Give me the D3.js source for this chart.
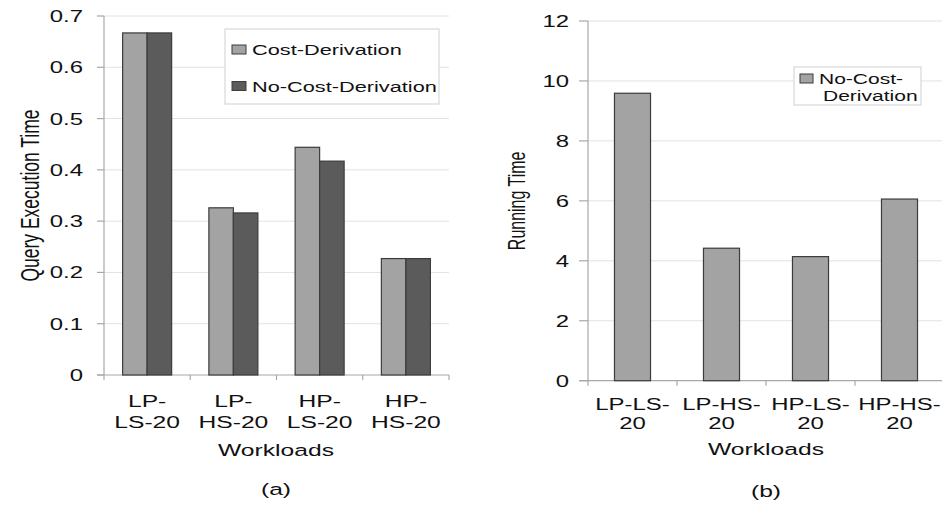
<!DOCTYPE html>
<html>
<head>
<meta charset="utf-8">
<script src="https://cdn.jsdelivr.net/npm/d3@7"></script>
<style>
  html, body { margin: 0; padding: 0; background: #fff; }
  svg { display: block; }
  text { font-family: "Liberation Sans", Arial, sans-serif; fill: #111; }
</style>
</head>
<body>
<svg id="chart" width="942" height="507"></svg>
<script>
// ---------- data ----------
const workloads = ["LP-LS-20", "LP-HS-20", "HP-LS-20", "HP-HS-20"];
const labelLinesA = [["LP-", "LS-20"], ["LP-", "HS-20"], ["HP-", "LS-20"], ["HP-", "HS-20"]];
const labelLinesB = [["LP-LS-", "20"], ["LP-HS-", "20"], ["HP-LS-", "20"], ["HP-HS-", "20"]];
const seriesNames = ["Cost-Derivation", "No-Cost-Derivation"];
const costDerivation = [0.667, 0.326, 0.444, 0.227];
const noCostDerivation = [0.667, 0.316, 0.417, 0.227];
const runningTime = [9.59, 4.42, 4.14, 6.06];
const ticksA = [0, 0.1, 0.2, 0.3, 0.4, 0.5, 0.6, 0.7];
const ticksB = [0, 2, 4, 6, 8, 10, 12];

// ---------- style ----------
const SX = 1.45;              // horizontal stretch of the original figure
const colLight = "#a3a3a3", colDark = "#5b5b5b", colStroke = "#3c3c3c";
const gridCol = "#e2e2e2", axisCol = "#a8a8a8";

const svg = d3.select("#chart");

function stext(g, x, y, str, size, anchor, rotate) {
  return g.append("text")
    .attr("transform", `translate(${x},${y}) scale(${SX},1)` + (rotate ? " rotate(-90)" : ""))
    .attr("text-anchor", anchor || "start")
    .style("font-size", size + "px")
    .text(str);
}

function drawAxes(g, x, y, ticks, fmt, opts) {
  const [x0, x1] = x.range();
  const [y0, y1] = y.range();
  g.append("g").selectAll("line").data(ticks.filter(t => t !== 0)).join("line")
    .attr("x1", x0).attr("x2", x1)
    .attr("y1", d => y(d)).attr("y2", d => y(d))
    .attr("stroke", gridCol).attr("stroke-width", 1);
  g.append("line").attr("x1", x0).attr("x2", x0).attr("y1", y1).attr("y2", y0)
    .attr("stroke", axisCol).attr("stroke-width", 1.2);
  g.append("g").selectAll("line").data(ticks).join("line")
    .attr("x1", x0 - opts.tickLen).attr("x2", x0)
    .attr("y1", d => y(d)).attr("y2", d => y(d))
    .attr("stroke", axisCol).attr("stroke-width", 1.2);
  ticks.forEach(t => {
    stext(g, opts.labelRight, y(t) + 6, fmt(t), 16.5, "end");
  });
  g.append("line").attr("x1", x0 - opts.tickLen).attr("x2", x1).attr("y1", y0).attr("y2", y0)
    .attr("stroke", axisCol).attr("stroke-width", 1.2);
  const bounds = x.domain().map(d => x(d) - x.step() * x.paddingOuter()).concat([x1]);
  g.append("g").selectAll("line").data(bounds).join("line")
    .attr("x1", d => d).attr("x2", d => d)
    .attr("y1", y0).attr("y2", y0 + 5)
    .attr("stroke", axisCol).attr("stroke-width", 1.2);
}

// ---------- chart (a) ----------
const gA = svg.append("g");
const xA = d3.scaleBand().domain(workloads).range([104, 449]).paddingInner(0).paddingOuter(0);
const xSub = d3.scaleBand().domain(seriesNames).range([0, xA.bandwidth()]).paddingInner(0).paddingOuter(0.76);
const yA = d3.scaleLinear().domain([0, 0.7]).range([375, 16]);
drawAxes(gA, xA, yA, ticksA, d3.format(""), { tickLen: 7, labelRight: 83 });

const rowsA = workloads.map((w, i) => ({ w, vals: [costDerivation[i], noCostDerivation[i]] }));
gA.append("g").selectAll("g").data(rowsA).join("g")
  .attr("transform", d => `translate(${xA(d.w)},0)`)
  .selectAll("rect").data(d => d.vals.map((v, j) => ({ s: seriesNames[j], v, j }))).join("rect")
  .attr("x", d => xSub(d.s))
  .attr("width", xSub.bandwidth())
  .attr("y", d => yA(d.v))
  .attr("height", d => yA(0) - yA(d.v))
  .attr("fill", d => d.j === 0 ? colLight : colDark)
  .attr("stroke", colStroke).attr("stroke-width", 1.2);

workloads.forEach((w, i) => {
  const cx = xA(w) + xA.bandwidth() / 2;
  stext(gA, cx, 407, labelLinesA[i][0], 17, "middle");
  stext(gA, cx, 428, labelLinesA[i][1], 17, "middle");
});
stext(gA, 276, 456, "Workloads", 17, "middle");
stext(gA, 276, 495, "(a)", 17, "middle");
stext(gA, 39, (16 + 375) / 2, "Query Execution Time", 17.5, "middle", true);

// legend (a)
gA.append("rect").attr("x", 225).attr("y", 29).attr("width", 214).attr("height", 75)
  .attr("fill", "#fff").attr("stroke", "#cfcfcf").attr("stroke-width", 1);
seriesNames.forEach((s, j) => {
  const ly = j === 0 ? 55 : 91.5;
  gA.append("rect").attr("x", 232).attr("y", ly - 10).attr("width", 14).attr("height", 9)
    .attr("fill", j === 0 ? colLight : colDark).attr("stroke", colStroke).attr("stroke-width", 1);
  stext(gA, 252, ly, s, 15, "start");
});

// ---------- chart (b) ----------
const gB = svg.append("g");
const xB = d3.scaleBand().domain(workloads).range([588, 944]).paddingInner(0.595).paddingOuter(0.2975);
const yB = d3.scaleLinear().domain([0, 12]).range([380.7, 21]);
drawAxes(gB, xB, yB, ticksB, d3.format("d"), { tickLen: 9, labelRight: 569 });

gB.append("g").selectAll("rect").data(workloads.map((w, i) => ({ w, v: runningTime[i] }))).join("rect")
  .attr("x", d => xB(d.w))
  .attr("width", xB.bandwidth())
  .attr("y", d => yB(d.v))
  .attr("height", d => yB(0) - yB(d.v))
  .attr("fill", colLight)
  .attr("stroke", colStroke).attr("stroke-width", 1.2);

workloads.forEach((w, i) => {
  const cx = xB(w) + xB.bandwidth() / 2;
  stext(gB, cx, 410, labelLinesB[i][0], 16.5, "middle");
  stext(gB, cx, 429, labelLinesB[i][1], 16.5, "middle");
});
stext(gB, 766, 455, "Workloads", 17, "middle");
stext(gB, 766, 497, "(b)", 17, "middle");
stext(gB, 525, (21 + 380.7) / 2, "Running Time", 16, "middle", true);

// legend (b)
gB.append("rect").attr("x", 794).attr("y", 67).attr("width", 127).attr("height", 38)
  .attr("fill", "#fff").attr("stroke", "#cfcfcf").attr("stroke-width", 1);
gB.append("rect").attr("x", 800).attr("y", 74).attr("width", 13).attr("height", 9)
  .attr("fill", colLight).attr("stroke", colStroke).attr("stroke-width", 1);
stext(gB, 819, 84, "No-Cost-", 14.5, "start");
stext(gB, 823, 100.5, "Derivation", 14.5, "start");
</script>
</body>
</html>
